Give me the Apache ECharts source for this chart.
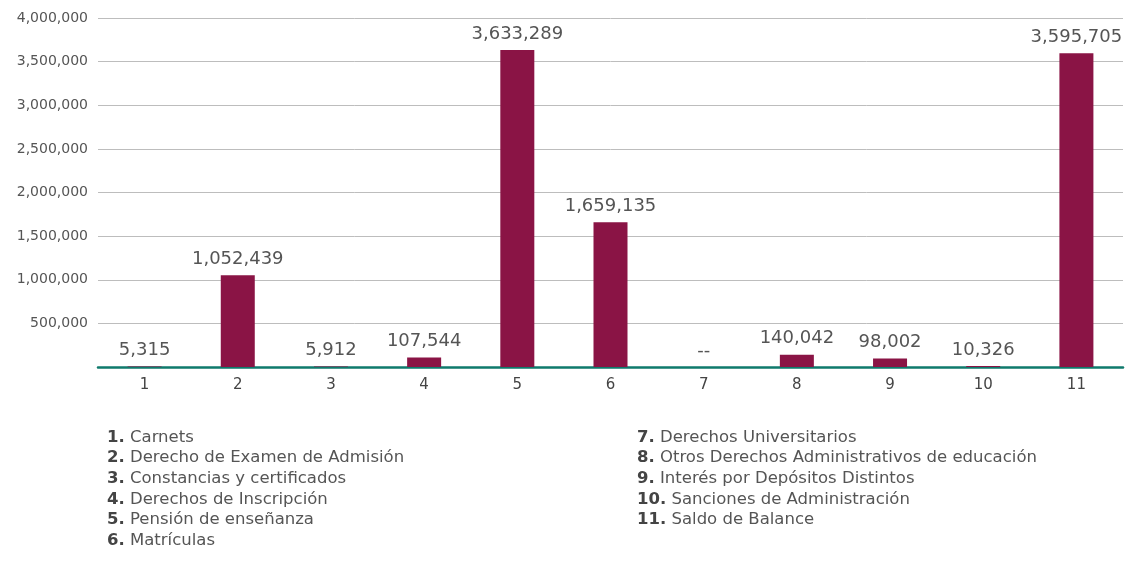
<!DOCTYPE html>
<html><head><meta charset="utf-8">
<script src="https://cdn.jsdelivr.net/npm/echarts@6/dist/echarts.min.js"></script>
<style>html,body{margin:0;padding:0;background:#fff}#c{width:1132px;height:569px}</style>
</head><body><div id="c"></div>
<script>
const categories = ['1','2','3','4','5','6','7','8','9','10','11'];
const values = [5315, 1052439, 5912, 107544, 3633289, 1659135, 0, 140042, 98002, 10326, 3595705];
const names = ['Carnets','Derecho de Examen de Admisión','Constancias y certificados','Derechos de Inscripción','Pensión de enseñanza','Matrículas','Derechos Universitarios','Otros Derechos Administrativos de educación','Interés por Depósitos Distintos','Sanciones de Administración','Saldo de Balance'];
const yTicks = [0, 500000, 1000000, 1500000, 2000000, 2500000, 3000000, 3500000, 4000000];

const FONT = '"DejaVu Sans", "Open Sans", sans-serif';
const fmt = v => v.toLocaleString('en-US');

const legendGraphics = [];
names.forEach((n, i) => {
  const col = i < 6 ? 0 : 1;
  const row = col === 0 ? i : i - 6;
  legendGraphics.push({
    type: 'text',
    left: col === 0 ? 107 : 637,
    top: 429 + row * 20.6,
    style: {
      text: '{b|' + categories[i] + '.} ' + n,
      rich: { b: { fontWeight: 'bold', fontSize: 16.5, fill: '#444', fontFamily: FONT } },
      fontSize: 16.5, fill: '#555', fontFamily: FONT
    }
  });
});

const chart = echarts.init(document.getElementById('c'));
chart.setOption({
  animation: false,
  grid: { left: 98, right: 9, top: 18, height: 349, containLabel: false },
  xAxis: {
    type: 'category', data: categories,
    axisLine: { lineStyle: { color: '#0F7A6C', width: 2.5 } },
    axisTick: { show: false },
    axisLabel: { color: '#444', fontSize: 15, fontFamily: FONT, margin: 11 }
  },
  yAxis: {
    type: 'value', min: yTicks[0], max: yTicks[yTicks.length - 1], interval: 500000,
    axisLine: { show: false }, axisTick: { show: false },
    splitLine: { lineStyle: { color: '#bdbdbd', width: 1 } },
    axisLabel: { color: '#555', fontSize: 14, fontFamily: FONT, margin: 10,
      formatter: v => v === 0 ? '' : fmt(v) }
  },
  series: [{
    type: 'bar', data: values, barWidth: 34,
    itemStyle: { color: '#8A1445' },
    label: { show: true, position: 'top', distance: 7, color: '#555', fontSize: 18, fontFamily: FONT,
      formatter: p => p.value === 0 ? '--' : fmt(p.value) }
  }],
  graphic: legendGraphics
});
</script></body></html>
